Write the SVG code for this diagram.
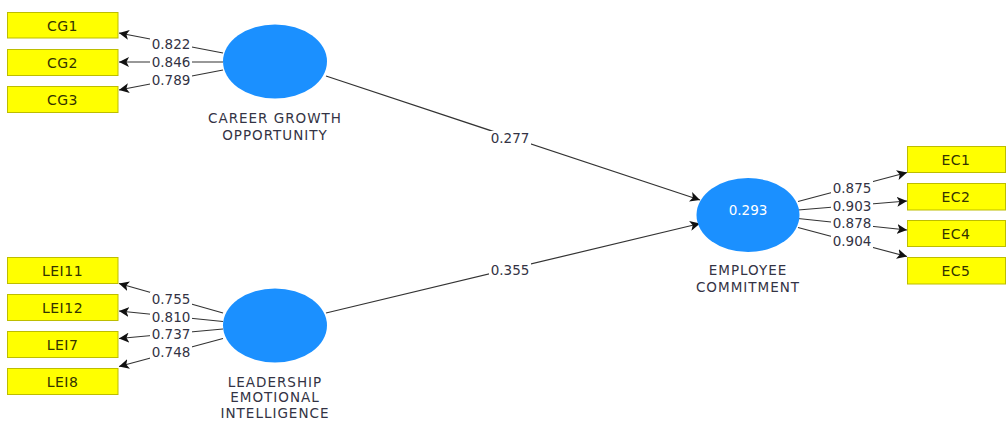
<svg xmlns="http://www.w3.org/2000/svg" width="1008" height="424" viewBox="0 0 1008 424">
<style>
.box{fill:#ffff00;stroke:#bdbd00;stroke-width:1}
.bt{font-family:"DejaVu Sans",Verdana,sans-serif;font-size:14px;letter-spacing:0.5px;fill:#333300;text-anchor:middle;dominant-baseline:central}
.lv{fill:#1b90ff}
.lt{font-family:"DejaVu Sans",Verdana,sans-serif;font-size:13.5px;letter-spacing:1px;fill:#333344;text-anchor:middle}
.vt{font-family:"DejaVu Sans",Verdana,sans-serif;font-size:13.5px;fill:#ffffff;text-anchor:middle;dominant-baseline:central}
.ln{stroke:#333;stroke-width:1.2;fill:none;marker-end:url(#ah)}
.num{font-family:"DejaVu Sans",Verdana,sans-serif;font-size:13.5px;fill:#333344;text-anchor:middle;dominant-baseline:central}
.nbg{fill:#fff}
</style>
<defs>
<marker id="ah" viewBox="0 0 10 10" refX="10" refY="5" markerWidth="10" markerHeight="10" markerUnits="userSpaceOnUse" orient="auto">
<path d="M0,0 L10,5 L0,10 L2.5,5 Z" fill="#111"/>
</marker>
</defs>
<rect width="1008" height="424" fill="#fff"/>

<g id="connectors">
<line class="ln" x1="223" y1="53" x2="119" y2="33"/>
<line class="ln" x1="223" y1="62" x2="119" y2="62"/>
<line class="ln" x1="223" y1="70" x2="119" y2="90"/>
<line class="ln" x1="223" y1="313" x2="119" y2="283.5"/>
<line class="ln" x1="223" y1="321.5" x2="119" y2="311"/>
<line class="ln" x1="223" y1="329" x2="119" y2="338.5"/>
<line class="ln" x1="223" y1="338.5" x2="119" y2="366.5"/>
<line class="ln" x1="798" y1="201.5" x2="907" y2="172.5"/>
<line class="ln" x1="798" y1="210" x2="907" y2="201"/>
<line class="ln" x1="798" y1="218.5" x2="907" y2="230"/>
<line class="ln" x1="798" y1="227.5" x2="907" y2="256.5"/>
<line class="ln" x1="326" y1="76" x2="700" y2="200"/>
<line class="ln" x1="326" y1="313" x2="700" y2="223.5"/>
<g id="loading-labels">
<rect class="nbg" x="150" y="37" width="42" height="14"/><text class="num" x="171" y="44">0.822</text>
<rect class="nbg" x="150" y="55" width="42" height="14"/><text class="num" x="171" y="62">0.846</text>
<rect class="nbg" x="150" y="73" width="42" height="14"/><text class="num" x="171" y="80">0.789</text>
<rect class="nbg" x="150" y="292" width="42" height="14"/><text class="num" x="171" y="299">0.755</text>
<rect class="nbg" x="150" y="310" width="42" height="14"/><text class="num" x="171" y="317">0.810</text>
<rect class="nbg" x="150" y="327" width="42" height="14"/><text class="num" x="171" y="334">0.737</text>
<rect class="nbg" x="150" y="345" width="42" height="14"/><text class="num" x="171" y="352">0.748</text>
<rect class="nbg" x="831" y="181" width="42" height="14"/><text class="num" x="852" y="188">0.875</text>
<rect class="nbg" x="831" y="199" width="42" height="14"/><text class="num" x="852" y="206">0.903</text>
<rect class="nbg" x="831" y="216" width="42" height="14"/><text class="num" x="852" y="223">0.878</text>
<rect class="nbg" x="831" y="234" width="42" height="14"/><text class="num" x="852" y="241">0.904</text>
<rect class="nbg" x="489" y="131" width="42" height="14"/><text class="num" x="510" y="138">0.277</text>
<rect class="nbg" x="489" y="263" width="42" height="14"/><text class="num" x="510" y="270">0.355</text>
</g>
</g>

<g id="CG1"><rect class="box" x="7.5" y="12.5" width="110.5" height="25.5"/><text class="bt" x="62.5" y="25.5">CG1</text></g>
<g id="CG2"><rect class="box" x="7.5" y="49.5" width="110.5" height="26"/><text class="bt" x="62.5" y="62.5">CG2</text></g>
<g id="CG3"><rect class="box" x="7.5" y="86.5" width="110.5" height="26"/><text class="bt" x="62.5" y="99.5">CG3</text></g>

<g id="LEI11"><rect class="box" x="7.5" y="257.5" width="110.5" height="26"/><text class="bt" x="62.5" y="270.5">LEI11</text></g>
<g id="LEI12"><rect class="box" x="7.5" y="294.5" width="110.5" height="26"/><text class="bt" x="62.5" y="307.5">LEI12</text></g>
<g id="LEI7"><rect class="box" x="7.5" y="331.5" width="110.5" height="26"/><text class="bt" x="62.5" y="344.5">LEI7</text></g>
<g id="LEI8"><rect class="box" x="7.5" y="368.5" width="110.5" height="26"/><text class="bt" x="62.5" y="381.5">LEI8</text></g>

<g id="EC1"><rect class="box" x="907.5" y="146.5" width="98" height="26"/><text class="bt" x="956" y="159.5">EC1</text></g>
<g id="EC2"><rect class="box" x="907.5" y="183.5" width="98" height="26.5"/><text class="bt" x="956" y="196.5">EC2</text></g>
<g id="EC4"><rect class="box" x="907.5" y="220.5" width="98" height="26"/><text class="bt" x="956" y="233.5">EC4</text></g>
<g id="EC5"><rect class="box" x="907.5" y="257.5" width="98" height="26.5"/><text class="bt" x="956" y="270.5">EC5</text></g>

<g id="CGO">
<ellipse class="lv" cx="275" cy="61.5" rx="52" ry="37"/>
<text class="lt" x="275" y="123">CAREER GROWTH</text>
<text class="lt" x="275" y="140">OPPORTUNITY</text>
</g>
<g id="LEI">
<ellipse class="lv" cx="275" cy="325.5" rx="52" ry="37"/>
<text class="lt" x="275" y="387">LEADERSHIP</text>
<text class="lt" x="275" y="402">EMOTIONAL</text>
<text class="lt" x="275" y="418">INTELLIGENCE</text>
</g>
<g id="EC">
<ellipse class="lv" cx="748" cy="215" rx="51.5" ry="37"/>
<text class="vt" x="748" y="210">0.293</text>
<text class="lt" x="748" y="275">EMPLOYEE</text>
<text class="lt" x="748" y="292">COMMITMENT</text>
</g>
</svg>
